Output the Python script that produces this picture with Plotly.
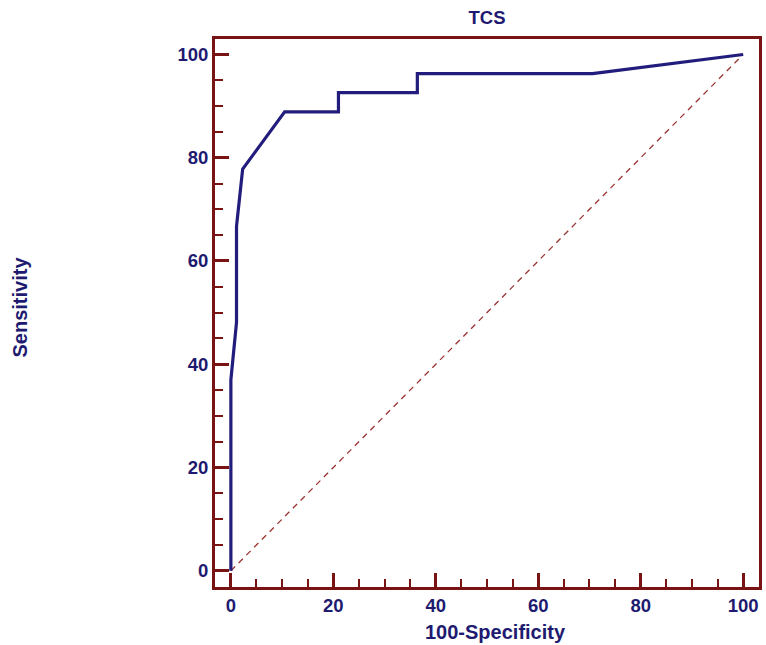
import plotly.graph_objects as go

# ROC curve points
fpr = [0, 0, 1.1, 1.1, 2.3, 10.5, 21.0, 21.0, 36.4, 36.4, 70.6, 100]
tpr = [0, 37.0, 48.1, 66.7, 77.8, 88.9, 88.9, 92.6, 92.6, 96.3, 96.3, 100]
diag_x = [0, 100]
diag_y = [0, 100]
tick_vals = [0, 20, 40, 60, 80, 100]
tick_text = ["0", "20", "40", "60", "80", "100"]

AX = "#7a1414"
NAVY = "#1e1a70"
LINE = "#221c7c"
FONT = "Liberation Sans"

fig = go.Figure()
fig.add_trace(go.Scatter(x=diag_x, y=diag_y, mode="lines",
                         line=dict(color="#9a3434", width=1.3, dash="6px,5px"),
                         hoverinfo="skip", showlegend=False))
fig.add_trace(go.Scatter(x=fpr, y=tpr, mode="lines",
                         line=dict(color=LINE, width=3.2),
                         showlegend=False))

axis_common = dict(
    showgrid=False, zeroline=False,
    showline=True, linecolor=AX, linewidth=3, mirror=True,
    ticks="inside", ticklen=14, tickwidth=3, tickcolor=AX,
    tickvals=tick_vals, ticktext=tick_text,
    tickfont=dict(family=FONT, size=18.5, color=NAVY, weight="bold"),
    minor=dict(ticks="inside", dtick=5, tick0=0, ticklen=8, tickwidth=2, tickcolor=AX),
)

fig.update_xaxes(range=[-3.1, 103.1], **axis_common)
fig.update_yaxes(range=[-3.15, 103.0], **axis_common)

fig.update_layout(
    width=766, height=645,
    margin=dict(l=215, r=4, t=39, b=58),
    plot_bgcolor="white", paper_bgcolor="white",
    title=dict(text="TCS", x=0.5, xref="paper", y=1, yref="container",
               yanchor="top", pad=dict(t=11),
               font=dict(family=FONT, size=18.5, color=NAVY, weight="bold")),
    annotations=[
        dict(text="100-Specificity", xref="paper", yref="paper", x=0.515, y=0,
             yshift=-45, showarrow=False, xanchor="center", yanchor="middle",
             font=dict(family=FONT, size=20, color=NAVY, weight="bold")),
        dict(text="Sensitivity", xref="paper", yref="paper", x=0, y=0.51,
             xshift=-195, showarrow=False, textangle=-90,
             xanchor="center", yanchor="middle",
             font=dict(family=FONT, size=20, color=NAVY, weight="bold")),
    ],
)

fig.write_html("out.html", config={"displayModeBar": False},
               post_script="document.body.style.margin='0';document.body.style.overflow='hidden';")
